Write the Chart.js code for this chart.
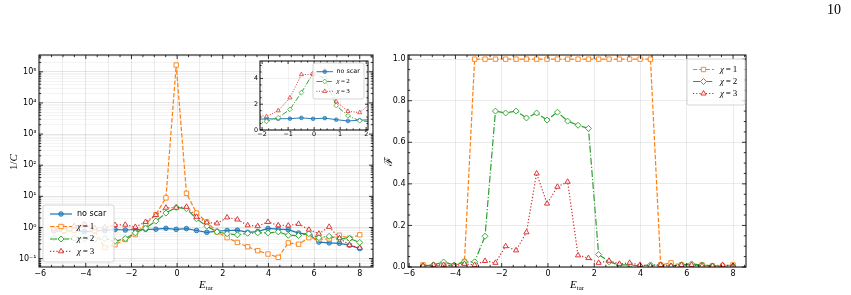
<!DOCTYPE html>
<html><head><meta charset="utf-8">
<script src="https://cdn.jsdelivr.net/npm/chart.js"></script>
<style>
html,body{margin:0;padding:0;background:#fff;}
#fig{position:relative;width:851px;height:295px;overflow:hidden;background:#fff;}
#fig canvas{position:absolute;}
.lbl{position:absolute;white-space:nowrap;color:#000;font-family:"Liberation Serif",serif;line-height:1;}
.lbl sub{font-size:0.62em;font-style:normal;vertical-align:-0.25em;}
</style></head><body>
<div id="fig">
  <canvas id="cl" width="380" height="295" style="left:0;top:0"></canvas>
  <canvas id="cr" width="471" height="295" style="left:380px;top:0"></canvas>
  <canvas id="ci" width="135" height="95" style="left:240px;top:50px"></canvas>
  <div class="lbl" style="left:827px;top:3px;font-size:14px;">10</div>
  <div class="lbl" style="left:206px;top:279px;font-size:11px;transform:translateX(-50%);"><i>E</i><sub>tar</sub></div>
  <div class="lbl" style="left:577px;top:279px;font-size:11px;transform:translateX(-50%);"><i>E</i><sub>tar</sub></div>
  <div class="lbl" style="left:13px;top:162px;font-size:11px;transform:translate(-50%,-50%) rotate(-90deg);">1/<i>C</i></div>
  <div class="lbl" style="left:388px;top:161px;font-size:11px;font-family:'DejaVu Serif',serif;transform:translate(-50%,-50%) rotate(-90deg);">ℱ</div>
</div>
<script>
// ---------------- data ----------------
const E_TAR = [-5.40,-4.95,-4.51,-4.06,-3.61,-3.17,-2.72,-2.27,-1.83,-1.38,-0.93,-0.49,-0.04,0.41,0.85,1.30,1.75,2.19,2.64,3.09,3.53,3.98,4.43,4.87,5.32,5.77,6.21,6.66,7.11,7.55,8.00];
const INV_C_NO_SCAR = [0.78,0.76,0.8,0.74,0.77,0.8,0.86,0.83,0.86,0.87,0.88,0.94,0.87,0.92,0.8,0.7,0.76,0.8,0.82,0.7,0.74,0.93,0.88,0.85,0.66,0.6,0.34,0.32,0.31,0.27,0.21];
const INV_C_CHI1 = [0.85,0.8,0.82,1.2,0.8,0.225,0.28,0.41,0.59,1.3,2.6,8.9,165000,12.5,2.9,1.5,0.72,0.47,0.33,0.24,0.18,0.14,0.11,0.32,0.29,0.47,0.42,0.43,0.56,0.45,0.58];
const INV_C_CHI2 = [0.45,0.42,0.45,0.43,0.42,0.44,0.36,0.44,0.67,0.95,1.6,2.9,4.4,4.0,1.9,1.1,0.72,0.63,0.58,0.65,0.67,0.67,0.72,0.56,0.55,0.63,0.47,0.52,0.44,0.44,0.33];
const INV_C_CHI3 = [0.9,1.0,1.1,1.25,0.95,1.0,1.2,1.22,1.04,1.5,2.5,4.3,4.3,4.6,2.2,1.45,1.35,2.1,1.8,1.17,1.1,1.5,1.17,1.15,1.3,0.85,0.63,1.05,0.45,0.27,0.22];
const F_CHI1 = [0.01,0.005,0.01,0.005,0.027,1,1,1,1,1,1,1,1,1,1,1,1,1,1,1,1,1,1,0.01,0.02,0.01,0.005,0.01,0.005,0.005,0.01];
const F_CHI2 = [0.005,0.01,0.024,0.01,0.025,0.025,0.148,0.75,0.741,0.75,0.717,0.741,0.707,0.745,0.702,0.682,0.667,0.06,0.025,0.01,0.01,0.005,0.01,0.01,0.005,0.01,0.015,0.01,0.005,0.003,0.005];
const F_CHI3 = [0.005,0.01,0.01,0.005,0.015,0.01,0.029,0.02,0.1,0.08,0.167,0.45,0.305,0.386,0.41,0.056,0.043,0.02,0.03,0.015,0.02,0.01,0.005,0.01,0.005,0.01,0.01,0.005,0.005,0.01,0.005];
const SERIES_LABELS = {noScar:'no scar', chi1:'χ = 1', chi2:'χ = 2', chi3:'χ = 3'};
const X_TICKS = [-6,-4,-2,0,2,4,6,8];
const LOG_EXPONENTS = [-1,0,1,2,3,4,5];
const F_TICKS = [0,0.2,0.4,0.6,0.8,1.0];
const INSET_X_TICKS = [-2,-1,0,1,2];
const INSET_Y_TICKS = [0,2,4];

// ---------------- styles ----------------
const STY = {
  noScar:{color:'#1f77b4', dash:[], marker:'circle', r:2.3, fill:'rgba(31,119,180,0.55)'},
  chi1:{color:'#ff7f0e', dash:[4.4,1.9], marker:'rect', r:3.1, fill:'#ffffff'},
  chi2:{color:'#2ca02c', dash:[7,2,1.2,2], marker:'rectRot', r:3, fill:'#ffffff'},
  chi3:{color:'#d62728', dash:[1.2,2], marker:'triangle', r:3, fill:'rgba(255,255,255,0.9)'}
};
const ORDER = {noScar:3, chi1:2, chi2:1, chi3:0};
const TICK_FONT = {family:'DejaVu Sans', size:8};

function mkDataset(key, ys, scale){
  const s = STY[key], k = scale || 1;
  return {
    label: SERIES_LABELS[key],
    data: E_TAR.map((x,i)=>({x:x, y:ys[i]})),
    borderColor: s.color, backgroundColor: s.fill,
    borderWidth: 1.2*k, borderDash: s.dash.map(v=>v*k),
    pointStyle: s.marker, pointRadius: s.r*k, pointHoverRadius: s.r*k,
    pointBackgroundColor: s.fill, pointBorderColor: s.color, pointBorderWidth: 0.9*k,
    tension: 0, fill: false, order: ORDER[key], clip: 0
  };
}
function near(a,b){return Math.abs(a-b)<1e-6;}
function stepTicks(lo, hi, step, majors, gridFn){
  const out=[];
  for(let v=lo; v<=hi+1e-9; v+=step){
    const val = Math.round(v*10000)/10000;
    const mj = majors.some(m=>near(m,val));
    out.push({value:val, mj:mj, g:gridFn(val,mj)});
  }
  return out;
}
const SUP = {'-':'⁻','0':'⁰','1':'¹','2':'²','3':'³','4':'⁴','5':'⁵','6':'⁶','7':'⁷','8':'⁸','9':'⁹'};
function supStr(n){return String(n).split('').map(c=>SUP[c]).join('');}
function minus(v){return (v<0?'−':'')+Math.abs(v);}

function gridColor(maj, min){
  return c => (c.tick && c.tick.g) ? (c.tick.mj ? maj : min) : 'rgba(0,0,0,0)';
}

// ---------------- plugins ----------------
function drawMarker(ctx, type, x, y, r, stroke, fill, lw){
  ctx.beginPath();
  if(type==='circle'){ ctx.arc(x,y,r,0,Math.PI*2); }
  else if(type==='rect'){ const s=r*Math.SQRT1_2; ctx.rect(x-s,y-s,2*s,2*s); }
  else if(type==='rectRot'){ ctx.moveTo(x-r,y); ctx.lineTo(x,y-r); ctx.lineTo(x+r,y); ctx.lineTo(x,y+r); ctx.closePath(); }
  else if(type==='triangle'){
    let a=0; ctx.moveTo(x+Math.sin(a)*r, y-Math.cos(a)*r);
    a+=2*Math.PI/3; ctx.lineTo(x+Math.sin(a)*r, y-Math.cos(a)*r);
    a+=2*Math.PI/3; ctx.lineTo(x+Math.sin(a)*r, y-Math.cos(a)*r); ctx.closePath();
  }
  ctx.fillStyle=fill; ctx.fill();
  ctx.setLineDash([]); ctx.lineWidth=lw; ctx.strokeStyle=stroke; ctx.stroke();
}
const frameTicks = {
  id:'frameTicks',
  beforeDraw(chart, args, o){
    if(o.bg){ const a=chart.chartArea, c=chart.ctx; c.save(); c.fillStyle=o.bg; c.fillRect(a.left,a.top,a.right-a.left,a.bottom-a.top); c.restore(); }
  },
  afterDatasetsDraw(chart, args, o){
    const {ctx, chartArea:a, scales} = chart;
    ctx.save(); ctx.setLineDash([]); ctx.strokeStyle='#000'; ctx.lineWidth=o.tickWidth||0.8;
    ctx.beginPath();
    for(const t of scales.x.ticks){
      const p=scales.x.getPixelForValue(t.value);
      if(p<a.left-0.01||p>a.right+0.01) continue;
      const L=t.mj?o.major:o.minor;
      ctx.moveTo(p,a.bottom); ctx.lineTo(p,a.bottom-L);
      ctx.moveTo(p,a.top); ctx.lineTo(p,a.top+L);
    }
    for(const t of scales.y.ticks){
      const p=scales.y.getPixelForValue(t.value);
      if(p<a.top-0.01||p>a.bottom+0.01) continue;
      const L=t.mj?o.major:o.minor;
      ctx.moveTo(a.left,p); ctx.lineTo(a.left+L,p);
      ctx.moveTo(a.right,p); ctx.lineTo(a.right-L,p);
    }
    ctx.stroke();
    ctx.lineWidth=o.frameWidth||1;
    ctx.strokeRect(a.left,a.top,a.right-a.left,a.bottom-a.top);
    ctx.restore();
  }
};
const boxLegend = {
  id:'boxLegend',
  afterDraw(chart, args, o){
    if(!o.rows) return;
    const ctx=chart.ctx;
    ctx.save();
    const [bx,by,bw,bh]=o.box, rr=2;
    ctx.beginPath();
    ctx.moveTo(bx+rr,by); ctx.arcTo(bx+bw,by,bx+bw,by+bh,rr); ctx.arcTo(bx+bw,by+bh,bx,by+bh,rr);
    ctx.arcTo(bx,by+bh,bx,by,rr); ctx.arcTo(bx,by,bx+bw,by,rr); ctx.closePath();
    ctx.fillStyle='rgba(255,255,255,0.8)'; ctx.fill();
    ctx.lineWidth=0.8; ctx.strokeStyle='#cccccc'; ctx.stroke();
    const k=o.scale||1;
    o.rows.forEach(row=>{
      const s=STY[row.key], y=row.y;
      ctx.beginPath(); ctx.setLineDash(s.dash.map(v=>v*k)); ctx.lineWidth=1.2*k; ctx.strokeStyle=s.color;
      ctx.moveTo(o.line[0],y); ctx.lineTo(o.line[1],y); ctx.stroke();
      drawMarker(ctx, s.marker, (o.line[0]+o.line[1])/2, y, s.r*k, s.color, s.fill, 0.9*k);
      ctx.fillStyle='#000'; ctx.textBaseline='middle'; ctx.textAlign='left';
      const lab=SERIES_LABELS[row.key];
      let x=o.textX;
      if(lab.startsWith('χ')){
        ctx.font='italic '+o.serifSize+'px "Liberation Serif"'; ctx.fillText('χ',x,y); x+=ctx.measureText('χ').width;
        ctx.font=o.serifSize+'px "Liberation Serif"'; ctx.fillText(lab.slice(1).replace(/ /g,'\u2009'),x,y);
      } else {
        ctx.font=o.sansSize+'px "DejaVu Sans"'; ctx.fillText(lab,x,y);
      }
    });
    ctx.restore();
  }
};
Chart.register(frameTicks, boxLegend);

function baseOpts(){
  return {responsive:false, animation:false, events:[], devicePixelRatio:1,
    plugins:{legend:{display:false}, tooltip:{enabled:false}}};
}

// ---------------- left panel ----------------
const LY_MIN = Math.pow(10,-1.27), LY_MAX = Math.pow(10,5.54);
const logTicks = [];
for(let e=-2;e<=5;e++) for(let m=1;m<=9;m++){
  const v=m*Math.pow(10,e);
  if(v>=LY_MIN && v<=LY_MAX) logTicks.push({value:v, mj:m===1 && LOG_EXPONENTS.includes(e), g:true, e:e});
}
const optL = baseOpts();
optL.layout={padding:{left:0,top:55,right:7,bottom:0}};
optL.plugins.frameTicks={major:4, minor:2.2};
optL.plugins.boxLegend={box:[43,205,71,57], line:[50,72], textX:77, sansSize:8, serifSize:9,
  rows:[{key:'noScar',y:214},{key:'chi1',y:226.5},{key:'chi2',y:239},{key:'chi3',y:251.3}]};
optL.scales={
  x:{type:'linear', min:-6.05, max:8.58, bounds:'data',
     afterBuildTicks:s=>{s.ticks=stepTicks(-6,8.5,0.5,X_TICKS,(v)=>near(v,Math.round(v)));},
     afterFit:s=>{s.height=28;},
     ticks:{autoSkip:false, maxRotation:0, padding:2, font:TICK_FONT, color:'#000',
       callback:(v,i,t)=>t[i].mj?minus(v):''},
     grid:{drawTicks:false, lineWidth:0.8, color:gridColor('rgba(0,0,0,0.12)','rgba(0,0,0,0.09)')},
     border:{display:false}},
  y:{type:'logarithmic', min:LY_MIN, max:LY_MAX, bounds:'data',
     afterBuildTicks:s=>{s.ticks=logTicks.map(t=>Object.assign({},t));},
     afterFit:s=>{s.width=39;},
     ticks:{autoSkip:false, padding:2.5, font:TICK_FONT, color:'#000',
       callback:(v,i,t)=>t[i].mj?('10'+supStr(t[i].e)):''},
     grid:{drawTicks:false, lineWidth:0.8, color:gridColor('rgba(0,0,0,0.13)','rgba(0,0,0,0.06)')},
     border:{display:false}}
};
new Chart(document.getElementById('cl'), {type:'line',
  data:{datasets:[mkDataset('noScar',INV_C_NO_SCAR), mkDataset('chi1',INV_C_CHI1), mkDataset('chi2',INV_C_CHI2), mkDataset('chi3',INV_C_CHI3)]},
  options:optL});

// ---------------- right panel ----------------
const optR = baseOpts();
optR.layout={padding:{left:0,top:55,right:105,bottom:0}};
optR.plugins.frameTicks={major:4, minor:2.2};
optR.plugins.boxLegend={box:[307,59,58,46], line:[313,334], textX:340, sansSize:8, serifSize:9,
  rows:[{key:'chi1',y:69.5},{key:'chi2',y:81.5},{key:'chi3',y:93.5}]};
optR.scales={
  x:{type:'linear', min:-6.05, max:8.56, bounds:'data',
     afterBuildTicks:s=>{s.ticks=stepTicks(-6,8.5,0.5,X_TICKS,(v,mj)=>mj);},
     afterFit:s=>{s.height=28;},
     ticks:{autoSkip:false, maxRotation:0, padding:2, font:TICK_FONT, color:'#000',
       callback:(v,i,t)=>t[i].mj?minus(v):''},
     grid:{drawTicks:false, lineWidth:0.8, color:gridColor('rgba(0,0,0,0.1)','rgba(0,0,0,0)')},
     border:{display:false}},
  y:{type:'linear', min:0, max:1.02, bounds:'data',
     afterBuildTicks:s=>{s.ticks=stepTicks(0,1.0,0.05,F_TICKS,(v,mj)=>mj);},
     afterFit:s=>{s.width=28;},
     ticks:{autoSkip:false, padding:2.5, font:TICK_FONT, color:'#000',
       callback:(v,i,t)=>t[i].mj?v.toFixed(1):''},
     grid:{drawTicks:false, lineWidth:0.8, color:gridColor('rgba(0,0,0,0.1)','rgba(0,0,0,0)')},
     border:{display:false}}
};
new Chart(document.getElementById('cr'), {type:'line',
  data:{datasets:[mkDataset('chi1',F_CHI1), mkDataset('chi2',F_CHI2), mkDataset('chi3',F_CHI3)]},
  options:optR});

// ---------------- inset ----------------
const INSET_FONT = {family:'DejaVu Sans', size:6.4};
const optI = baseOpts();
optI.layout={padding:{left:0,top:11,right:7,bottom:0}};
optI.plugins.frameTicks={major:3, minor:1.6, bg:'#ffffff', frameWidth:1};
optI.plugins.boxLegend={box:[73,13,51,36], line:[76.5,93], textX:96.5, sansSize:6.4, serifSize:7, scale:0.8,
  rows:[{key:'noScar',y:21.7},{key:'chi2',y:31.5},{key:'chi3',y:41.3}]};
optI.scales={
  x:{type:'linear', min:-2.08, max:2.07, bounds:'data',
     afterBuildTicks:s=>{s.ticks=stepTicks(-2,2,0.25,INSET_X_TICKS,(v,mj)=>mj);},
     afterFit:s=>{s.height=15;},
     ticks:{autoSkip:false, maxRotation:0, padding:1, font:INSET_FONT, color:'#000',
       callback:(v,i,t)=>t[i].mj?minus(v):''},
     grid:{drawTicks:false, lineWidth:0.7, color:gridColor('rgba(0,0,0,0.08)','rgba(0,0,0,0)')},
     border:{display:false}},
  y:{type:'linear', min:0, max:5.35, bounds:'data',
     afterBuildTicks:s=>{s.ticks=stepTicks(0,5,0.5,INSET_Y_TICKS,(v,mj)=>mj);},
     afterFit:s=>{s.width=20;},
     ticks:{autoSkip:false, padding:2, font:INSET_FONT, color:'#000',
       callback:(v,i,t)=>t[i].mj?String(v):''},
     grid:{drawTicks:false, lineWidth:0.7, color:gridColor('rgba(0,0,0,0.08)','rgba(0,0,0,0)')},
     border:{display:false}}
};
new Chart(document.getElementById('ci'), {type:'line',
  data:{datasets:[mkDataset('noScar',INV_C_NO_SCAR,0.8), mkDataset('chi2',INV_C_CHI2,0.8), mkDataset('chi3',INV_C_CHI3,0.8)]},
  options:optI});
</script>
</body></html>
